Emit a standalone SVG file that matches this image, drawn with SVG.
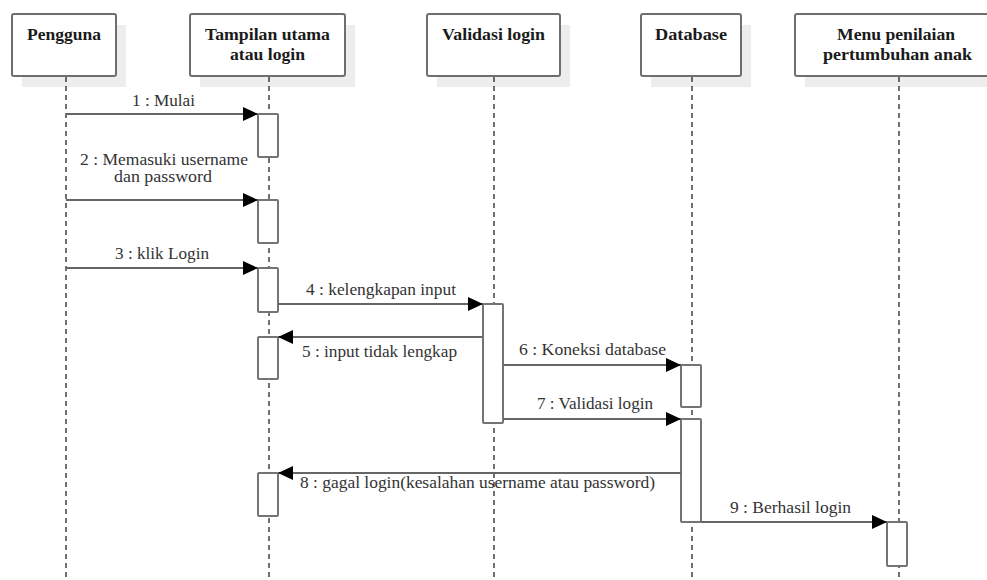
<svg xmlns="http://www.w3.org/2000/svg" width="987" height="580" viewBox="0 0 987 580">
  <defs>
    <marker id="arrow" markerUnits="userSpaceOnUse" markerWidth="16" markerHeight="14" refX="15" refY="7" orient="auto">
      <path d="M0,0 L15,7 L0,14 Z" fill="#000"/>
    </marker>
    <style>
      .shadow { fill: #ededed; }
      .head { fill: #fff; stroke: #6e6e6e; stroke-width: 2; }
      .head-text { font-family: 'Liberation Serif', 'Times New Roman', Times, 'Noto Serif', 'DejaVu Serif', FreeSerif, Georgia, serif; font-size: 16px; font-weight: bold; fill: #1a1a1a; }
      .life { stroke: #111; stroke-width: 1.2; stroke-dasharray: 5 4; fill: none; }
      .act { fill: #fff; stroke: #747474; stroke-width: 2; }
      .msg { stroke: #666; stroke-width: 2; fill: none; marker-end: url(#arrow); }
      .label { font-family: 'Liberation Serif', 'Times New Roman', Times, 'Noto Serif', 'DejaVu Serif', FreeSerif, Georgia, serif; font-size: 16px; fill: #333; }
    </style>
  </defs>
  <rect width="987" height="580" fill="#fff"/>

  <!-- lifeline heads -->
  <g id="pengguna">
    <rect class="shadow" x="22" y="25" width="104" height="62"/>
    <rect class="head" x="12" y="14" width="104" height="62" rx="2"/>
    <text class="head-text" x="27" y="40" textLength="74" lengthAdjust="spacingAndGlyphs">Pengguna</text>
    <line class="life" x1="66" y1="77" x2="66" y2="580"/>
  </g>
  <g id="tampilan">
    <rect class="shadow" x="200" y="25" width="155" height="62"/>
    <rect class="head" x="190" y="14" width="155" height="62" rx="2"/>
    <text class="head-text" x="205" y="40" textLength="125" lengthAdjust="spacingAndGlyphs">Tampilan utama</text>
    <text class="head-text" x="230" y="60" textLength="75" lengthAdjust="spacingAndGlyphs">atau login</text>
    <line class="life" x1="269" y1="77" x2="269" y2="580"/>
  </g>
  <g id="validasi">
    <rect class="shadow" x="437" y="25" width="133" height="62"/>
    <rect class="head" x="427" y="14" width="133" height="62" rx="2"/>
    <text class="head-text" x="442" y="40" textLength="103" lengthAdjust="spacingAndGlyphs">Validasi login</text>
    <line class="life" x1="494" y1="77" x2="494" y2="580"/>
  </g>
  <g id="database">
    <rect class="shadow" x="651" y="25" width="100" height="62"/>
    <rect class="head" x="641" y="14" width="100" height="62" rx="2"/>
    <text class="head-text" x="655" y="40" textLength="72" lengthAdjust="spacingAndGlyphs">Database</text>
    <line class="life" x1="692" y1="77" x2="692" y2="580"/>
  </g>
  <g id="menu">
    <rect class="shadow" x="805" y="25" width="208" height="62"/>
    <rect class="head" x="795" y="14" width="208" height="62" rx="2"/>
    <text class="head-text" x="837" y="40" textLength="118" lengthAdjust="spacingAndGlyphs">Menu penilaian</text>
    <text class="head-text" x="823" y="60" textLength="149" lengthAdjust="spacingAndGlyphs">pertumbuhan anak</text>
    <line class="life" x1="899" y1="77" x2="899" y2="580"/>
  </g>

  <!-- activation bars -->
  <g id="activations">
    <rect class="act" x="258" y="114" width="20" height="43" rx="1"/>
    <rect class="act" x="258" y="200" width="20" height="43" rx="1"/>
    <rect class="act" x="258" y="268" width="20" height="44" rx="1"/>
    <rect class="act" x="483" y="304" width="20" height="119" rx="1"/>
    <rect class="act" x="258" y="337" width="20" height="42" rx="1"/>
    <rect class="act" x="681" y="365" width="20" height="42" rx="1"/>
    <rect class="act" x="681" y="419" width="20" height="103" rx="1"/>
    <rect class="act" x="258" y="473" width="20" height="43" rx="1"/>
    <rect class="act" x="887" y="522" width="20" height="44" rx="1"/>
  </g>

  <!-- messages -->
  <g id="connectors">
    <line class="msg" x1="66" y1="114" x2="258" y2="114"/>
    <line class="msg" x1="66" y1="200" x2="258" y2="200"/>
    <line class="msg" x1="66" y1="268" x2="258" y2="268"/>
    <line class="msg" x1="278" y1="304" x2="483" y2="304"/>
    <line class="msg" x1="483" y1="337" x2="278" y2="337"/>
    <line class="msg" x1="503" y1="365" x2="681" y2="365"/>
    <line class="msg" x1="503" y1="419" x2="681" y2="419"/>
    <line class="msg" x1="681" y1="473" x2="278" y2="473"/>
    <line class="msg" x1="701" y1="522" x2="887" y2="522"/>
  </g>

  <!-- message labels -->
  <g id="labels">
    <text class="label" x="132" y="106" textLength="63" lengthAdjust="spacingAndGlyphs">1 : Mulai</text>
    <text class="label" x="80" y="165" textLength="168" lengthAdjust="spacingAndGlyphs">2 : Memasuki username</text>
    <text class="label" x="114" y="182" textLength="98" lengthAdjust="spacingAndGlyphs">dan password</text>
    <text class="label" x="115" y="259" textLength="94" lengthAdjust="spacingAndGlyphs">3 : klik Login</text>
    <text class="label" x="306" y="295" textLength="150" lengthAdjust="spacingAndGlyphs">4 : kelengkapan input</text>
    <text class="label" x="302" y="357" textLength="155" lengthAdjust="spacingAndGlyphs">5 : input tidak lengkap</text>
    <text class="label" x="519" y="355" textLength="147" lengthAdjust="spacingAndGlyphs">6 : Koneksi database</text>
    <text class="label" x="537" y="409" textLength="116" lengthAdjust="spacingAndGlyphs">7 : Validasi login</text>
    <text class="label" x="300" y="488" textLength="355" lengthAdjust="spacingAndGlyphs">8 : gagal login(kesalahan username atau password)</text>
    <text class="label" x="730" y="513" textLength="121" lengthAdjust="spacingAndGlyphs">9 : Berhasil login</text>
  </g>
</svg>
